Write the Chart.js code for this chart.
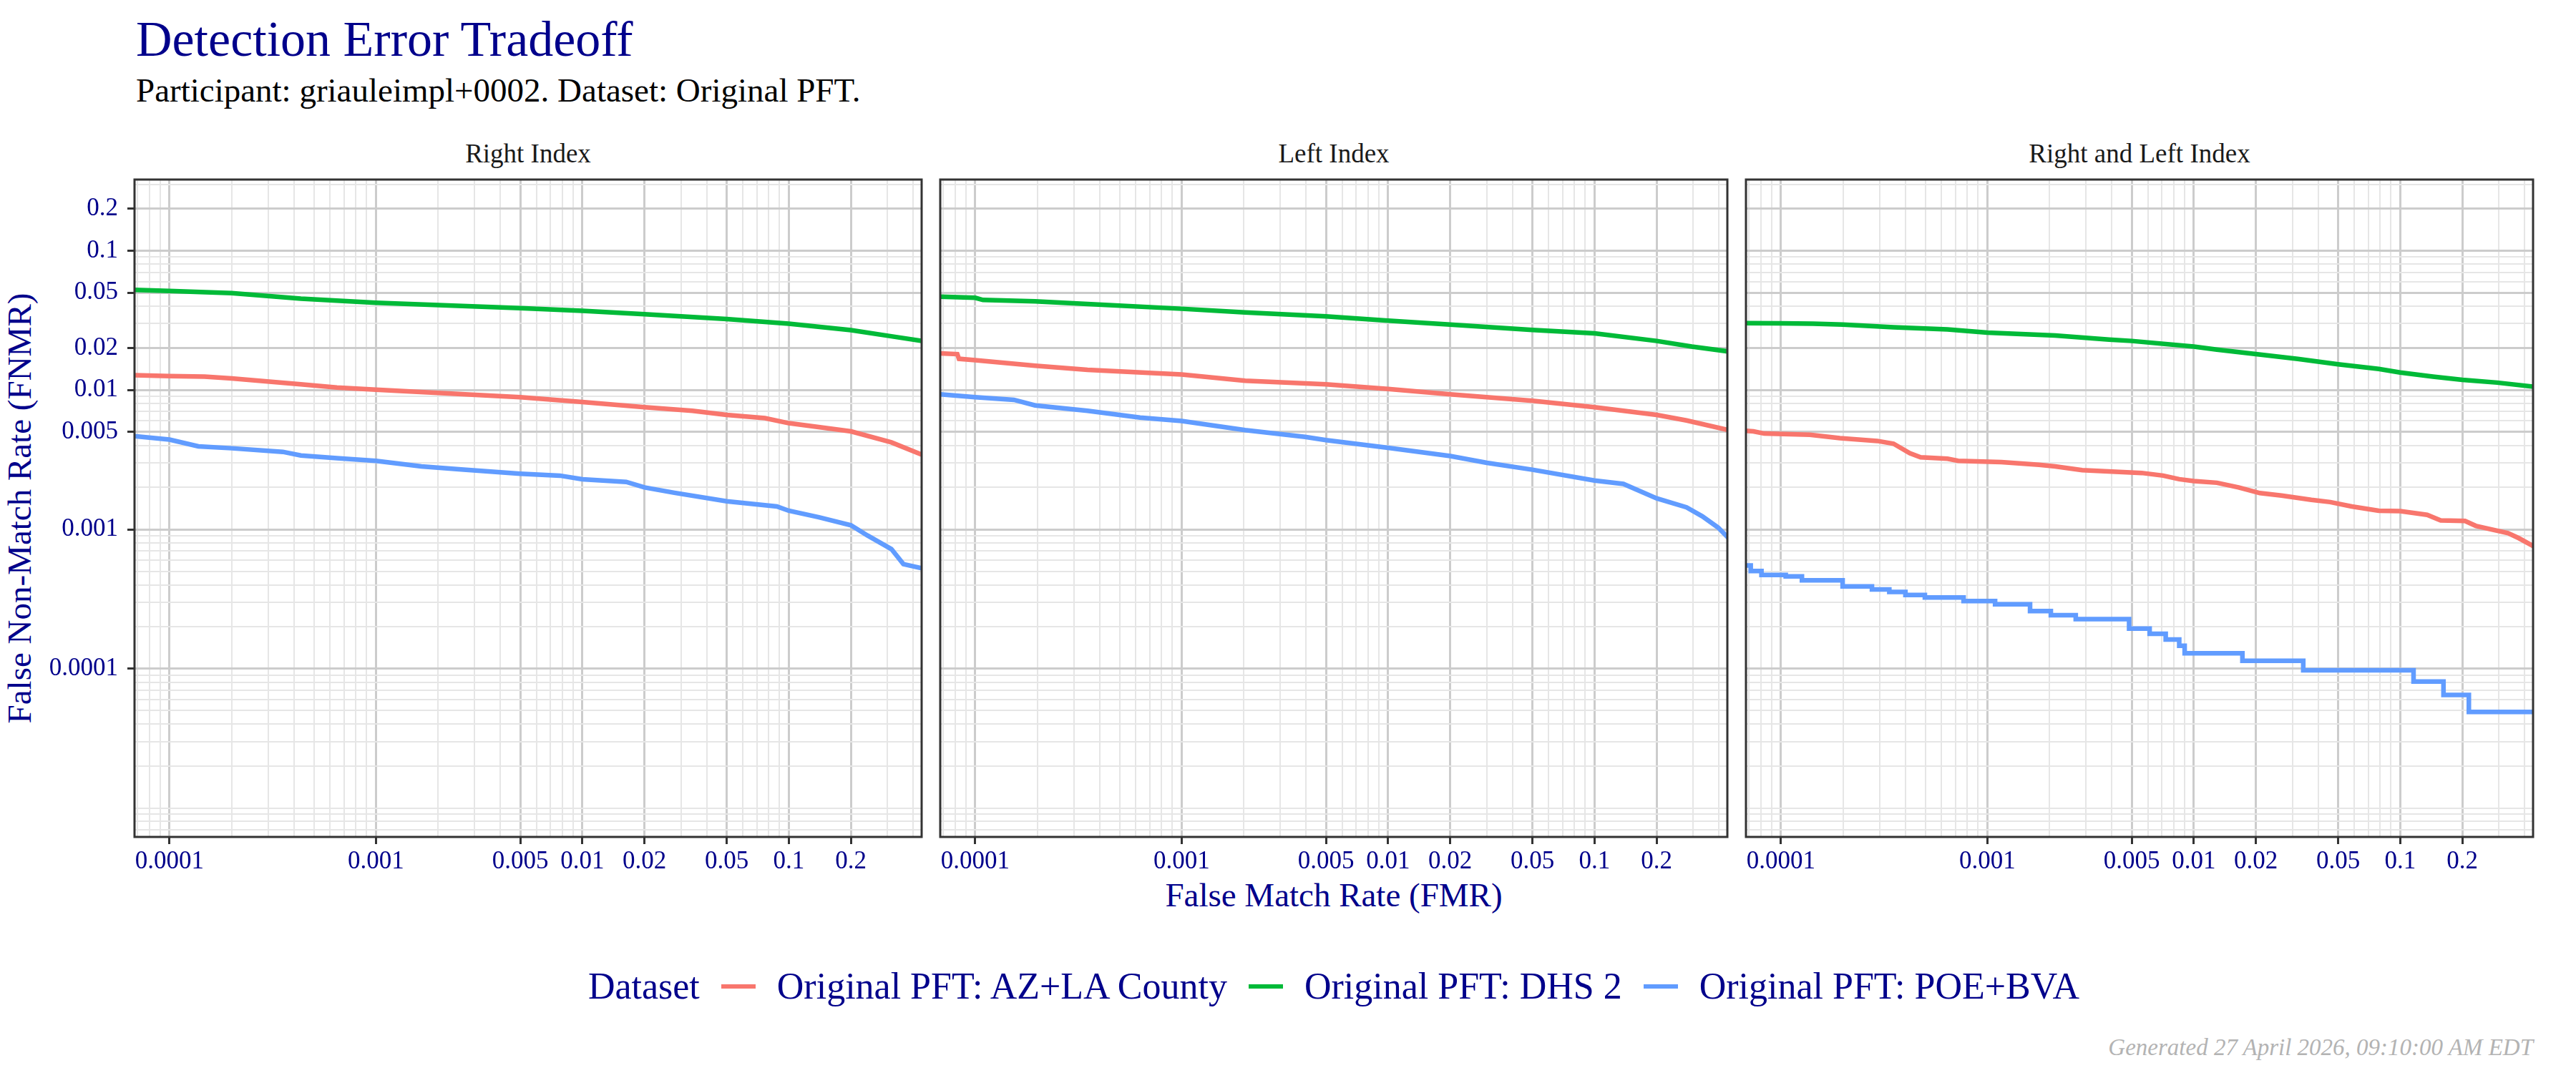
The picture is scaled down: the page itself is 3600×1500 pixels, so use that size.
<!DOCTYPE html>
<html>
<head>
<meta charset="utf-8">
<title>Detection Error Tradeoff</title>
<script src="https://cdn.jsdelivr.net/npm/chart.js@4.4.1/dist/chart.umd.min.js"></script>
<style>
  body { margin: 0; width: 3600px; height: 1500px; background: #fff; position: relative; overflow: hidden;
         font-family: "Liberation Serif", "DejaVu Serif", serif; }
  .txt { position: absolute; white-space: nowrap; line-height: 1; }
  canvas { position: absolute; }
  #title { left: 190px; top: 20px; font-size: 70px; color: #00008b; }
  #subtitle { left: 190px; top: 103px; font-size: 47px; color: #000; }
  .strip { top: 196px; width: 1100px; text-align: center; font-size: 37px; color: #1a1a1a; }
  #ytitle { left: -473px; top: 687px; width: 1000px; text-align: center; font-size: 47px; color: #00008b; transform: rotate(-90deg); }
  #xtitle { left: 1364px; top: 1228px; width: 1000px; text-align: center; font-size: 47px; color: #00008b; }
  #legend { left: 364px; top: 1353px; width: 3000px; display: flex; justify-content: center; align-items: center; font-size: 52px; color: #00008b; }
  #legend .sw { display: inline-block; width: 48px; height: 6px; margin: 0 30px; }
  #footer { right: 60px; top: 1448px; font-size: 33px; font-style: italic; color: #b3b3b3; }
</style>
</head>
<body>
<div class="txt" id="title">Detection Error Tradeoff</div>
<div class="txt" id="subtitle">Participant: griauleimpl+0002. Dataset: Original PFT.</div>
<div class="txt" id="ytitle">False Non-Match Rate (FNMR)</div>
<div class="txt" id="xtitle">False Match Rate (FMR)</div>
<div class="txt" id="legend"><span>Dataset</span></div>
<div class="txt" id="footer">Generated 27 April 2026, 09:10:00 AM EDT</div>

<script>
// axis ticks and ranges (log scale)
const fmrTicks = [0.0001, 0.001, 0.005, 0.01, 0.02, 0.05, 0.1, 0.2];
const fnmrTicks = [0.0001, 0.001, 0.005, 0.01, 0.02, 0.05, 0.1, 0.2];
const fmrRange = [6.77e-5, 0.44];
const fnmrRange = [6.2e-6, 0.324];

const panelNames = ['Right Index', 'Left Index', 'Right and Left Index'];
const datasetNames = ['Original PFT: AZ+LA County', 'Original PFT: DHS 2', 'Original PFT: POE+BVA'];
const datasetColors = ['#F8766D', '#00BA38', '#619CFF'];

// Right Index
const rightFmrAZ = [6.77e-5, 1e-4, 1.48e-4, 2e-4, 4.33e-4, 6.47e-4, 0.001, 0.00232, 0.005, 0.01, 0.02, 0.0341, 0.05, 0.0766, 0.1, 0.2, 0.314, 0.44];
const rightFnmrAZ = [0.01276, 0.01259, 0.01247, 0.0121, 0.0110, 0.01043, 0.01005, 0.00943, 0.00889, 0.00819, 0.00752, 0.0071, 0.00663, 0.00628, 0.00578, 0.00505, 0.00421, 0.00344];
const rightFmrDHS = [6.77e-5, 1e-4, 2e-4, 4.33e-4, 0.001, 0.005, 0.01, 0.02, 0.05, 0.1, 0.2, 0.314, 0.44];
const rightFnmrDHS = [0.0523, 0.0514, 0.0496, 0.0453, 0.0423, 0.0387, 0.0370, 0.0350, 0.0323, 0.0299, 0.0269, 0.0243, 0.0225];
const rightFmrPOE = [6.77e-5, 1e-4, 1.38e-4, 2e-4, 3.54e-4, 4.33e-4, 6.47e-4, 0.001, 0.00166, 0.00266, 0.005, 0.00778, 0.01, 0.0163, 0.02, 0.0279, 0.05, 0.0875, 0.1, 0.14, 0.2, 0.24, 0.314, 0.359, 0.44];
const rightFnmrPOE = [0.00466, 0.00441, 0.00394, 0.00382, 0.0036, 0.00339, 0.00324, 0.0031, 0.00283, 0.00268, 0.00251, 0.00243, 0.00229, 0.00219, 0.0020, 0.00183, 0.00159, 0.00146, 0.00136, 0.00122, 0.00107, 0.000905, 0.000722, 0.000563, 0.000526];

// Left Index
const leftFmrAZ = [6.79e-5, 8.19e-5, 8.34e-5, 1e-4, 1.95e-4, 3.5e-4, 0.001, 0.00203, 0.005, 0.01, 0.02, 0.05, 0.1, 0.2, 0.279, 0.446];
const leftFnmrAZ = [0.01834, 0.0181, 0.01675, 0.01637, 0.01496, 0.01397, 0.01294, 0.01166, 0.0110, 0.01018, 0.0093, 0.00838, 0.00752, 0.00663, 0.00605, 0.00516];
const leftFmrDHS = [6.79e-5, 1e-4, 1.09e-4, 1.95e-4, 3.5e-4, 0.001, 0.00203, 0.005, 0.01, 0.02, 0.05, 0.1, 0.2, 0.296, 0.446];
const leftFnmrDHS = [0.0468, 0.0459, 0.0443, 0.0433, 0.0414, 0.0383, 0.0361, 0.0338, 0.0315, 0.0295, 0.0270, 0.0255, 0.0225, 0.0205, 0.0189];
const leftFmrPOE = [6.79e-5, 1e-4, 1.54e-4, 1.95e-4, 3.5e-4, 6.29e-4, 0.001, 0.00203, 0.00396, 0.005, 0.01, 0.02, 0.0301, 0.05, 0.1, 0.138, 0.2, 0.279, 0.333, 0.397, 0.446];
const leftFnmrPOE = [0.0093, 0.00889, 0.0085, 0.00776, 0.0071, 0.00634, 0.0060, 0.00516, 0.00461, 0.00437, 0.00385, 0.00336, 0.0030, 0.00268, 0.00224, 0.00212, 0.00167, 0.00144, 0.00124, 0.00103, 0.000865];

// Right and Left Index
const bothFmrAZ = [6.77e-5, 7.36e-5, 8.3e-5, 1.38e-4, 1.93e-4, 2.93e-4, 3.51e-4, 4.21e-4, 4.75e-4, 6.41e-4, 7.22e-4, 0.00117, 0.00178, 0.00213, 0.00288, 0.00559, 0.0071, 0.0085, 0.01, 0.01294, 0.01647, 0.0209, 0.0266, 0.0371, 0.0458, 0.0582, 0.0787, 0.1, 0.135, 0.157, 0.206, 0.232, 0.333, 0.375, 0.444];
const bothFnmrAZ = [0.0051, 0.00505, 0.00487, 0.00478, 0.00451, 0.00431, 0.00412, 0.00352, 0.00329, 0.00321, 0.0031, 0.00304, 0.00291, 0.00283, 0.00266, 0.00254, 0.00243, 0.00229, 0.00222, 0.00216, 0.0020, 0.00182, 0.00175, 0.00163, 0.00157, 0.00146, 0.00136, 0.00135, 0.00127, 0.00116, 0.00115, 0.00106, 0.000939, 0.000865, 0.000755];
const bothFmrDHS = [6.77e-5, 1e-4, 1.43e-4, 2e-4, 3.51e-4, 6.41e-4, 0.001, 0.00213, 0.00389, 0.005, 0.01, 0.01294, 0.02, 0.0319, 0.05, 0.0787, 0.1, 0.144, 0.2, 0.295, 0.444];
const bothFnmrDHS = [0.0302, 0.0301, 0.0299, 0.0295, 0.0282, 0.0272, 0.0258, 0.0246, 0.0230, 0.0225, 0.0205, 0.0195, 0.0181, 0.0167, 0.0153, 0.01416, 0.01336, 0.01248, 0.01183, 0.0113, 0.01056];
const bothFmrPOE = [6.77e-5, 7.14e-5, 8.05e-5, 1.055e-4, 1.264e-4, 1.99e-4, 2.76e-4, 3.35e-4, 4.01e-4, 4.98e-4, 7.67e-4, 0.00109, 0.00161, 0.00203, 0.00268, 0.00486, 0.00611, 0.00731, 0.0085, 0.00903, 0.0172, 0.0339, 0.116, 0.162, 0.215, 0.444];
const bothFnmrPOE = [0.000551, 0.000503, 0.00047, 0.000459, 0.000431, 0.00039, 0.00037, 0.000355, 0.000338, 0.000324, 0.000306, 0.00029, 0.000259, 0.000242, 0.000227, 0.000194, 0.000178, 0.000162, 0.000146, 0.000129, 0.000114, 0.0000973, 0.0000809, 0.0000647, 0.0000489, 0.0000489];

const panelFmr = [[rightFmrAZ, rightFmrDHS, rightFmrPOE], [leftFmrAZ, leftFmrDHS, leftFmrPOE], [bothFmrAZ, bothFmrDHS, bothFmrPOE]];
const panelFnmr = [[rightFnmrAZ, rightFnmrDHS, rightFnmrPOE], [leftFnmrAZ, leftFnmrDHS, leftFnmrPOE], [bothFnmrAZ, bothFnmrDHS, bothFnmrPOE]];

// layout
const panelLeft = [188, 1314, 2440];
const panelW = 1100;

// legend
const legend = document.getElementById('legend');
datasetNames.forEach((n, i) => {
  const sw = document.createElement('span');
  sw.className = 'sw';
  sw.style.background = datasetColors[i];
  legend.appendChild(sw);
  const t = document.createElement('span');
  t.textContent = n;
  legend.appendChild(t);
});

// every n * 10^k inside the range, used for the grid
function gridTicks(lo, hi) {
  const out = [];
  for (let e = -7; e <= 0; e++) {
    for (let m = 1; m <= 9; m++) {
      const v = parseFloat((m * Math.pow(10, e)).toPrecision(2));
      if (v >= lo && v <= hi) out.push({ value: v });
    }
  }
  return out;
}
function isLabelled(v, list) {
  return list.some(t => Math.abs(v - t) <= t * 1e-6);
}

const framePlugin = {
  id: 'frame',
  afterDatasetsDraw(chart) {
    const a = chart.chartArea, ctx = chart.ctx;
    ctx.save();
    ctx.strokeStyle = '#333333';
    ctx.lineWidth = 3;
    ctx.strokeRect(a.left, a.top, a.right - a.left, a.bottom - a.top);
    ctx.restore();
  }
};

function axisOpts(range, labels, showLabels, isX, axisSize) {
  const major = c => c.tick && isLabelled(c.tick.value, labels);
  return {
    type: 'logarithmic',
    min: range[0],
    max: range[1],
    afterBuildTicks: s => { s.ticks = gridTicks(range[0], range[1]); },
    afterFit: s => {
      if (isX) { s.height = axisSize; s.paddingLeft = 0; s.paddingRight = 0; }
      else { s.width = axisSize; s.paddingTop = 0; s.paddingBottom = 0; }
    },
    border: { display: false },
    grid: {
      color: c => major(c) ? '#cccccc' : '#e6e6e6',
      lineWidth: c => major(c) ? 3 : 2,
      drawTicks: showLabels,
      tickLength: 10,
      tickWidth: 3,
      tickColor: c => major(c) ? '#333333' : 'rgba(0,0,0,0)'
    },
    ticks: {
      display: showLabels,
      autoSkip: false,
      maxRotation: 0,
      minRotation: 0,
      padding: isX ? 4 : 13,
      color: '#00008b',
      font: { family: 'Liberation Serif', size: 35 },
      callback: v => isLabelled(v, labels) ? String(v) : ''
    }
  };
}

panelNames.forEach((name, p) => {
  const axisW = p === 0 ? 188 : 30;

  const strip = document.createElement('div');
  strip.className = 'txt strip';
  strip.style.left = panelLeft[p] + 'px';
  strip.textContent = name;
  document.body.appendChild(strip);

  const canvas = document.createElement('canvas');
  canvas.width = axisW + panelW + 12;
  canvas.height = 1010;
  canvas.style.left = (panelLeft[p] - axisW) + 'px';
  canvas.style.top = '240px';
  document.body.appendChild(canvas);

  new Chart(canvas, {
    type: 'line',
    data: {
      datasets: datasetNames.map((n, i) => ({
        label: n,
        data: panelFmr[p][i].map((x, j) => ({ x: x, y: panelFnmr[p][i][j] })),
        borderColor: datasetColors[i],
        backgroundColor: datasetColors[i],
        borderWidth: 6.5,
        pointRadius: 0,
        tension: 0,
        fill: false,
        clip: 0,
        stepped: (p === 2 && i === 2) ? 'before' : false,
        order: 2 - i
      }))
    },
    options: {
      responsive: false,
      animation: false,
      devicePixelRatio: 1,
      layout: { padding: { top: 11, right: 12, bottom: 0, left: 0 } },
      plugins: { legend: { display: false }, tooltip: { enabled: false } },
      scales: {
        x: axisOpts(fmrRange, fmrTicks, true, true, 80),
        y: axisOpts(fnmrRange, fnmrTicks, p === 0, false, axisW)
      }
    },
    plugins: [framePlugin]
  });
});
</script>
</body>
</html>
